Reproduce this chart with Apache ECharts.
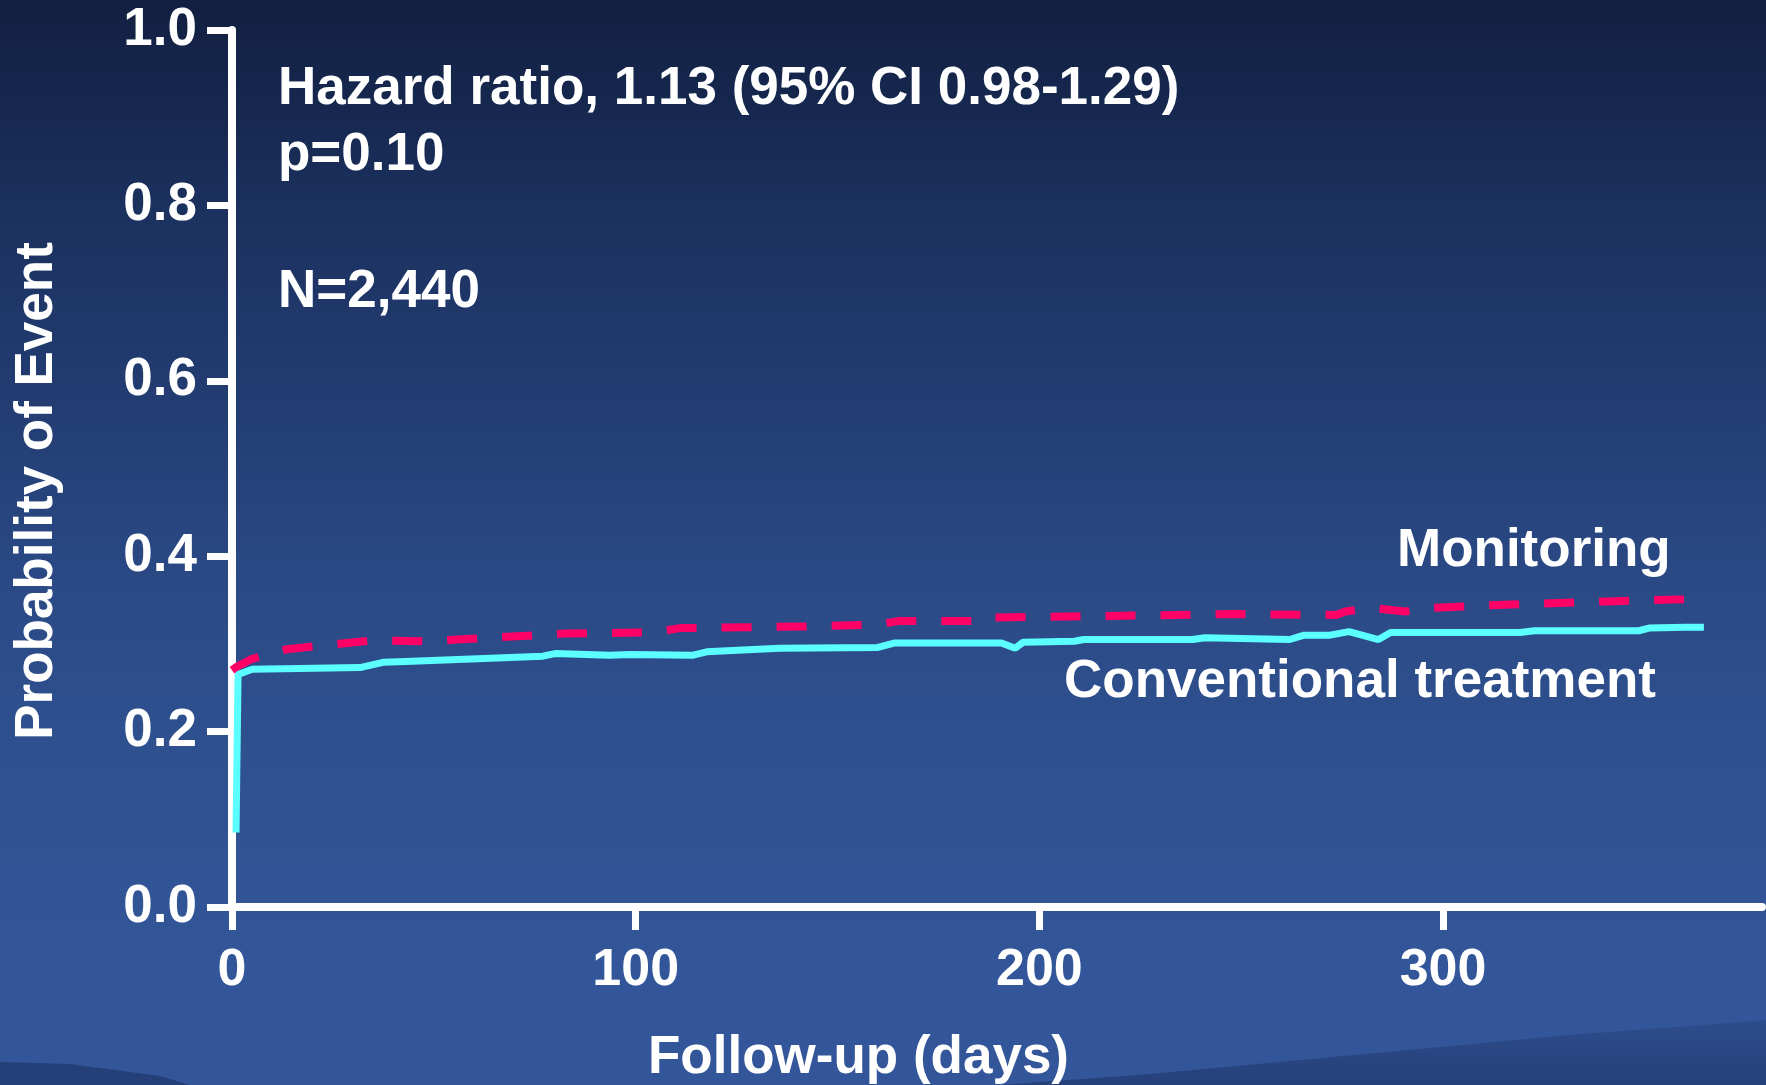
<!DOCTYPE html>
<html>
<head>
<meta charset="utf-8">
<script src="https://cdn.jsdelivr.net/npm/echarts@6/dist/echarts.min.js"></script>
<style>
  html, body { margin: 0; padding: 0; }
  #main { width: 1766px; height: 1085px; }
</style>
</head>
<body>
<div id="main"></div>
<script>
// follow-up days / probability of event
var convDays = [1, 1.5, 5, 31.7, 37.4, 43, 77, 80, 93.5, 98.5, 114, 117.6, 135.6, 160, 164, 190.6, 194, 196, 208.7, 211, 238, 241, 262, 265.6, 272, 276.7, 284, 287, 319, 322.7, 348.5, 351, 360, 364.6];
var convProb = [0.085, 0.265, 0.271, 0.273, 0.279, 0.280, 0.286, 0.289, 0.287, 0.288, 0.287, 0.291, 0.295, 0.296, 0.301, 0.301, 0.295, 0.302, 0.303, 0.305, 0.305, 0.307, 0.305, 0.310, 0.310, 0.314, 0.305, 0.313, 0.313, 0.315, 0.315, 0.318, 0.319, 0.319];

var monDays = [0, 1.2, 5, 13.6, 35, 49, 55.7, 76, 83, 104, 111, 143, 160, 165, 185, 187, 248.5, 273.5, 275.8, 282.4, 290.6, 296.8, 311, 324.5, 352, 362];
var monProb = [0.27, 0.274, 0.283, 0.294, 0.304, 0.303, 0.305, 0.310, 0.312, 0.313, 0.318, 0.320, 0.322, 0.326, 0.326, 0.330, 0.334, 0.333, 0.337, 0.341, 0.337, 0.341, 0.344, 0.346, 0.350, 0.351];

var xTicks = [0, 100, 200, 300];
var yTicks = [0, 0.2, 0.4, 0.6, 0.8, 1.0];

function pairs(xs, ys) {
  return xs.map(function (x, i) { return [x, ys[i]]; });
}

var FAMILY = '"Liberation Sans", Arial, sans-serif';
var FONT = 'bold 53px ' + FAMILY;

var myChart = echarts.init(document.getElementById('main'));

var option = {
  animation: false,
  backgroundColor: {
    type: 'linear', x: 0, y: 0, x2: 0, y2: 1,
    colorStops: [
      { offset: 0, color: '#121f40' },
      { offset: 0.2, color: '#1b315f' },
      { offset: 0.33, color: '#213a6e' },
      { offset: 0.55, color: '#2b4a86' },
      { offset: 0.7, color: '#2f5190' },
      { offset: 0.9, color: '#33569a' },
      { offset: 1, color: '#33569a' }
    ]
  },
  grid: { left: 232, right: 4, top: 30, bottom: 178, containLabel: false, outerBoundsMode: 'none' },
  xAxis: {
    type: 'value',
    min: 0,
    max: 379,
    interval: 100,
    splitLine: { show: false },
    axisLine: { lineStyle: { color: '#fff', width: 8 } },
    axisTick: { show: true, length: 23, lineStyle: { color: '#fff', width: 7 }, customValues: xTicks },
    axisLabel: {
      customValues: xTicks,
      color: '#fff', fontSize: 52, fontWeight: 'bold', fontFamily: FAMILY, margin: 38
    }
  },
  yAxis: {
    type: 'value',
    min: 0,
    max: 1,
    interval: 0.2,
    splitLine: { show: false },
    axisLine: { lineStyle: { color: '#fff', width: 8 } },
    axisTick: { show: true, length: 25, lineStyle: { color: '#fff', width: 7 }, customValues: yTicks },
    axisLabel: {
      customValues: yTicks,
      color: '#fff', fontSize: 53, fontWeight: 'bold', fontFamily: FAMILY, margin: 35,
      formatter: function (v) { return v.toFixed(1); }
    }
  },
  graphic: [
    // faint hills along the bottom of the slide background
    { type: 'polygon', z: -10, silent: true,
      shape: { points: [[1000, 1085], [1150, 1074], [1300, 1060], [1450, 1046], [1580, 1034], [1690, 1026], [1766, 1020], [1766, 1085]] },
      style: { fill: { type: 'linear', x: 0, y: 0, x2: 0, y2: 1, colorStops: [
        { offset: 0, color: 'rgba(18,32,72,0.18)' }, { offset: 1, color: 'rgba(18,32,72,0.4)' }] } } },
    { type: 'polygon', z: -10, silent: true,
      shape: { points: [[0, 1062], [70, 1064], [160, 1076], [190, 1085], [0, 1085]] },
      style: { fill: 'rgba(18,32,72,0.4)' } },

    { type: 'text', style: { text: 'Hazard ratio, 1.13 (95% CI 0.98-1.29)', x: 278, y: 63, font: FONT, fill: '#fff', verticalAlign: 'top' } },
    { type: 'text', style: { text: 'p=0.10', x: 278, y: 129, font: FONT, fill: '#fff', verticalAlign: 'top' } },
    { type: 'text', style: { text: 'N=2,440', x: 278, y: 266, font: FONT, fill: '#fff', verticalAlign: 'top' } },
    { type: 'text', style: { text: 'Monitoring', x: 1397, y: 525, font: FONT, fill: '#fff', verticalAlign: 'top' } },
    { type: 'text', style: { text: 'Conventional treatment', x: 1064, y: 656, font: FONT, fill: '#fff', verticalAlign: 'top' } },
    { type: 'text', style: { text: 'Follow-up (days)', x: 648, y: 1032, font: FONT, fill: '#fff', verticalAlign: 'top' } },
    { type: 'text', rotation: Math.PI / 2, x: 37, y: 491,
      style: { text: 'Probability of Event', x: 0, y: 0, font: FONT, fill: '#fff', align: 'center', verticalAlign: 'middle' } }
  ],
  series: [
    {
      name: 'Monitoring',
      type: 'line',
      symbol: 'none',
      data: pairs(monDays, monProb),
      lineStyle: { color: '#ff0066', width: 8, type: [30, 25], cap: 'butt' },
      z: 3
    },
    {
      name: 'Conventional treatment',
      type: 'line',
      symbol: 'none',
      data: pairs(convDays, convProb),
      lineStyle: { color: '#5cffff', width: 7 },
      z: 4
    }
  ]
};

myChart.setOption(option);
</script>
</body>
</html>
